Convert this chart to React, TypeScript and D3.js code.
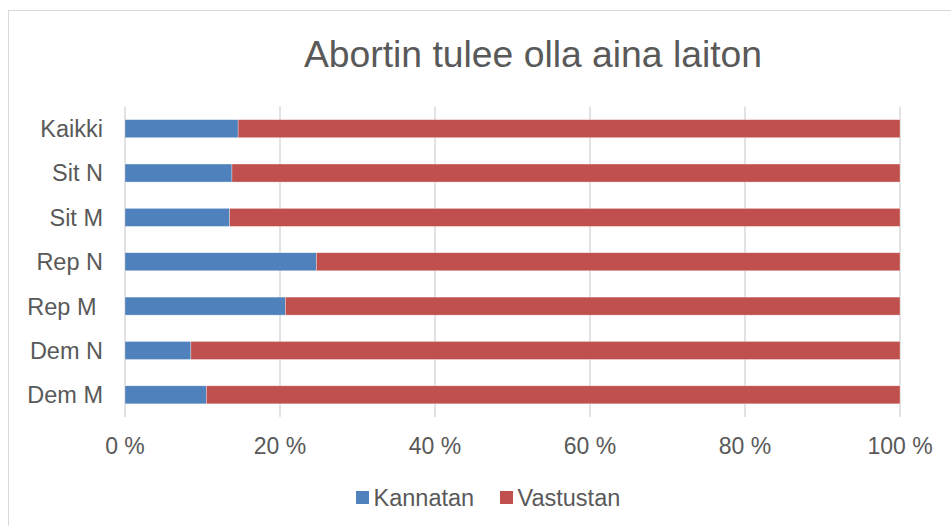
import React from "react";
import * as d3 from "d3";

const categories = ["Kaikki", "Sit N", "Sit M", "Rep N", "Rep M ", "Dem N", "Dem M"];
const kannatan = [14.6, 13.8, 13.5, 24.7, 20.7, 8.5, 10.5];
const vastustan = [85.4, 86.2, 86.5, 75.3, 79.3, 91.5, 89.5];
const xTicks = [0, 20, 40, 60, 80, 100];
const seriesNames = ["Kannatan", "Vastustan"];
const seriesColors = ["#4f81bd", "#c0504d"];
const title = "Abortin tulee olla aina laiton";

const W = 951;
const H = 526;
const FONT = "'Liberation Sans', Arial, sans-serif";
const TXT = "#595959";

export default function App() {
  const x = d3.scaleLinear().domain([0, 100]).range([125, 900]);
  const y = d3
    .scaleBand<string>()
    .domain(categories)
    .range([106.5, 417])
    .paddingInner(0.594)
    .paddingOuter(0.297);

  const rows = categories.map((c, i) => ({ c, vals: [kannatan[i], vastustan[i]] }));

  return (
    <svg
      width={W}
      height={H}
      style={{ position: "fixed", left: 0, top: 0, background: "#fff" }}
      fontFamily={FONT}
    >
      <rect x={0} y={0} width={W} height={H} fill="#fff" />
      <rect x={8.5} y={10.5} width={1000} height={600} fill="none" stroke="#d9d9d9" strokeWidth={1} />
      <text x={533} y={66.5} textAnchor="middle" fontSize={37.3} fill={TXT}>
        {title}
      </text>
      {xTicks.map((t) => (
        <line key={"g" + t} x1={x(t)} x2={x(t)} y1={106.5} y2={417} stroke="#d9d9d9" strokeWidth={1.5} />
      ))}
      {rows.map((r) => {
        let acc = 0;
        return (
          <g key={r.c}>
            {r.vals.map((v, j) => {
              const x0 = acc;
              acc += v;
              return (
                <rect
                  key={j}
                  x={x(x0)}
                  y={y(r.c)}
                  width={x(acc) - x(x0)}
                  height={y.bandwidth()}
                  fill={seriesColors[j]}
                  stroke="#ffffff"
                  strokeOpacity={0.5}
                  strokeWidth={0.6}
                />
              );
            })}
            <text
              x={103}
              y={(y(r.c) as number) + y.bandwidth() / 2}
              dy="0.36em"
              textAnchor="end"
              fontSize={23.5}
              fill={TXT}
              style={{ whiteSpace: "pre" }}
            >
              {r.c}
            </text>
          </g>
        );
      })}
      {xTicks.map((t) => (
        <text key={"t" + t} x={x(t)} y={454} textAnchor="middle" fontSize={23} fill={TXT}>
          {t + " %"}
        </text>
      ))}
      {seriesNames.map((s, i) => {
        const lx = i === 0 ? 356 : 500;
        return (
          <g key={s}>
            <rect x={lx} y={491} width={13} height={13} fill={seriesColors[i]} />
            <text x={lx + 17.5} y={506} fontSize={23.5} fill={TXT}>
              {s}
            </text>
          </g>
        );
      })}
    </svg>
  );
}
